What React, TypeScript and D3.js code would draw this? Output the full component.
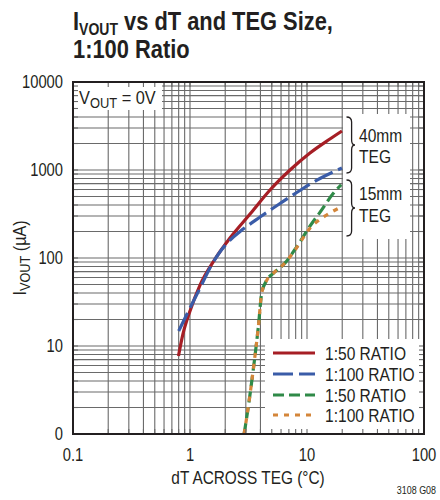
import React from "react";
import * as d3 from "d3";

const W = 440;
const H = 500;
const FONT = "'Liberation Sans', Arial, Helvetica, sans-serif";

// X ticks / Y ticks
const xTickValues = [0.1, 1, 10, 100];
const xTickLabels = ["0.1", "1", "10", "100"];
const yTickValues = [1, 10, 100, 1000, 10000];
const yTickLabels = ["0", "10", "100", "1000", "10000"];

// 40mm TEG, 1:50 ratio (solid red)
const red50X = [0.797, 0.871, 1.0, 1.218, 1.636, 2.197, 3.26, 4.83, 7.16, 10.6, 15.7, 19.9];
const red50Y = [7.7, 13.7, 25, 49.3, 97.4, 169, 316, 593, 1000, 1560, 2250, 2775];

// 40mm TEG, 1:100 ratio (long-dash blue)
const blue100X = [0.8, 1.0, 1.22, 1.48, 1.8, 2.2, 2.68, 3.97, 5.88, 8.7, 12.9, 19.9];
const blue100Y = [14.8, 27, 45.6, 77, 117, 160, 200, 292, 416, 585, 800, 1054];

// 15mm TEG, 1:50 ratio (dash green)
const green50X = [2.9, 3.15, 3.47, 3.84, 4.1, 4.53, 5.15, 6.5, 8.2, 10.6, 12.9, 16.8, 19.6];
const green50Y = [1, 2.04, 5.34, 16.6, 39.7, 56, 67, 88, 135, 230, 330, 543, 680];

// 15mm TEG, 1:100 ratio (dotted orange)
const orange100X = [2.9, 3.15, 3.47, 3.84, 4.1, 4.53, 5.15, 6.5, 7.9, 10.6, 14.7, 19.2];
const orange100Y = [1, 2.04, 5.34, 16.6, 39.7, 56, 67, 88, 123, 218, 308, 375];

const legendLabels = ["1:50 RATIO", "1:100 RATIO", "1:50 RATIO", "1:100 RATIO"];

const PL = 73, PR = 424, PT = 82, PB = 434;
const INK = "#231f20";

function NText({ x, y, sx = 0.82, children, ...rest }: any) {
  return (
    <text transform={`translate(${x},${y}) scale(${sx},1)`} fill={INK} {...rest}>
      {children}
    </text>
  );
}

export default function App() {
  const x = d3.scaleLog().domain([0.1, 100]).range([PL, PR]);
  const y = d3.scaleLog().domain([1, 10000]).range([PB, PT]);

  const xMinor: number[] = [];
  for (const dec of [0.1, 1, 10]) for (let k = 2; k <= 9; k++) xMinor.push(dec * k);
  const yMinor: number[] = [];
  for (const dec of [1, 10, 100, 1000]) for (let k = 2; k <= 9; k++) yMinor.push(dec * k);
  const xGrid = [...xMinor, 1, 10];
  const yGrid = [...yMinor, 10, 100, 1000];

  const line = d3
    .line<[number, number]>()
    .x((d) => x(d[0]))
    .y((d) => y(d[1]))
    .curve(d3.curveMonotoneX);

  const zip = (a: number[], b: number[]) => a.map((v, i) => [v, b[i]] as [number, number]);

  const series = [
    { pts: zip(red50X, red50Y), color: "#a61e25", dash: "none" },
    { pts: zip(blue100X, blue100Y), color: "#3a5ca8", dash: "20,6" },
    { pts: zip(green50X, green50Y), color: "#2f8a48", dash: "11,5" },
    { pts: zip(orange100X, orange100Y), color: "#d4863a", dash: "5,6" },
  ];

  const brace = (x0: number, y0: number, y1: number, w: number) => {
    const ym = (y0 + y1) / 2;
    const xm = x0 + w * 0.6;
    const r = 5;
    return `M${x0},${y0} Q${xm},${y0} ${xm},${y0 + r} L${xm},${ym - r} Q${xm},${ym} ${x0 + w},${ym} Q${xm},${ym} ${xm},${ym + r} L${xm},${y1 - r} Q${xm},${y1} ${x0},${y1}`;
  };

  const gridColor = "#6a6a6a";
  const tickLen = 5;

  return (
    <svg width={W} height={H} style={{ position: "absolute", left: 0, top: 0, background: "#fff" }} fontFamily={FONT}>
      <rect x={0} y={0} width={W} height={H} fill="#fff" />
      {/* title */}
      <NText x={73} y={30} sx={0.875} fontSize={25} fontWeight="bold">
        I<tspan fontSize={16} dy={5}>VOUT</tspan>
        <tspan dy={-5}> vs dT and TEG Size,</tspan>
      </NText>
      <NText x={73} y={58} sx={0.875} fontSize={25} fontWeight="bold">
        1:100 Ratio
      </NText>

      {/* grid */}
      <g stroke={gridColor} strokeWidth={1.1}>
        {xGrid.map((v, i) => (
          <line key={"xg" + i} x1={x(v)} x2={x(v)} y1={PT} y2={PB} />
        ))}
        {yGrid.map((v, i) => (
          <line key={"yg" + i} x1={PL} x2={PR} y1={y(v)} y2={y(v)} />
        ))}
      </g>

      {/* curves */}
      {series.map((s, i) => (
        <path
          key={"s" + i}
          d={line(s.pts) || ""}
          fill="none"
          stroke={s.color}
          strokeWidth={3.2}
          strokeDasharray={s.dash}
        />
      ))}

      {/* white boxes */}
      <rect x={PL} y={PT} width={89} height={28} fill="#fff" />
      <rect x={343} y={114} width={67} height={125} fill="#fff" />
      <rect x={265} y={339} width={PR - 265} height={PB - 339} fill="#fff" />

      {/* inward ticks on frame */}
      <g stroke={gridColor} strokeWidth={1.1}>
        {xGrid.map((v, i) => (
          <g key={"xt" + i}>
            <line x1={x(v)} x2={x(v)} y1={PB} y2={PB - tickLen} />
            <line x1={x(v)} x2={x(v)} y1={PT} y2={PT + tickLen} />
          </g>
        ))}
        {yGrid.map((v, i) => (
          <g key={"yt" + i}>
            <line x1={PL} x2={PL + tickLen} y1={y(v)} y2={y(v)} />
            <line x1={PR} x2={PR - tickLen} y1={y(v)} y2={y(v)} />
          </g>
        ))}
      </g>

      {/* frame */}
      <rect x={PL} y={PT} width={PR - PL} height={PB - PT} fill="none" stroke={INK} strokeWidth={2} />

      {/* VOUT label */}
      <NText x={79} y={104} sx={0.86} fontSize={19}>
        V<tspan fontSize={15} dy={4}>OUT</tspan>
        <tspan dy={-4}> = 0V</tspan>
      </NText>

      {/* braces */}
      <g fill="none" stroke={INK} strokeWidth={1.3}>
        <path d={brace(346.5, 117, 173, 8.5)} />
        <path d={brace(346.5, 180, 236, 8.5)} />
      </g>
      <NText x={359} y={142} fontSize={19}>40mm</NText>
      <NText x={359} y={163} fontSize={19}>TEG</NText>
      <NText x={359} y={200} fontSize={19}>15mm</NText>
      <NText x={359} y={222} fontSize={19}>TEG</NText>

      {/* legend */}
      {series.map((s, i) => {
        const ly = [353, 374, 395, 415][i];
        return (
          <g key={"lg" + i}>
            <line x1={273} x2={315} y1={ly} y2={ly} stroke={s.color} strokeWidth={3.2} strokeDasharray={s.dash} />
            <NText x={325} y={ly} dy="0.36em" fontSize={19}>
              {legendLabels[i]}
            </NText>
          </g>
        );
      })}

      {/* axis tick labels */}
      {yTickValues.map((v, i) => (
        <NText key={"yl" + i} x={63} y={y(v)} dy="0.36em" fontSize={18} textAnchor="end">
          {yTickLabels[i]}
        </NText>
      ))}
      {xTickValues.map((v, i) => (
        <NText key={"xl" + i} x={x(v)} y={461} fontSize={18} textAnchor="middle">
          {xTickLabels[i]}
        </NText>
      ))}

      {/* axis titles */}
      <NText x={248} y={484} sx={0.81} fontSize={19} textAnchor="middle">
        dT ACROSS TEG (°C)
      </NText>
      <text transform="translate(26,258) rotate(-90) scale(0.85,1)" fontSize={19} textAnchor="middle" fill={INK}>
        I<tspan fontSize={15} dy={4}>VOUT</tspan>
        <tspan dy={-4}> (µA)</tspan>
      </text>

      <NText x={436} y={494} sx={0.85} fontSize={10.5} textAnchor="end">
        3108 G08
      </NText>
    </svg>
  );
}
